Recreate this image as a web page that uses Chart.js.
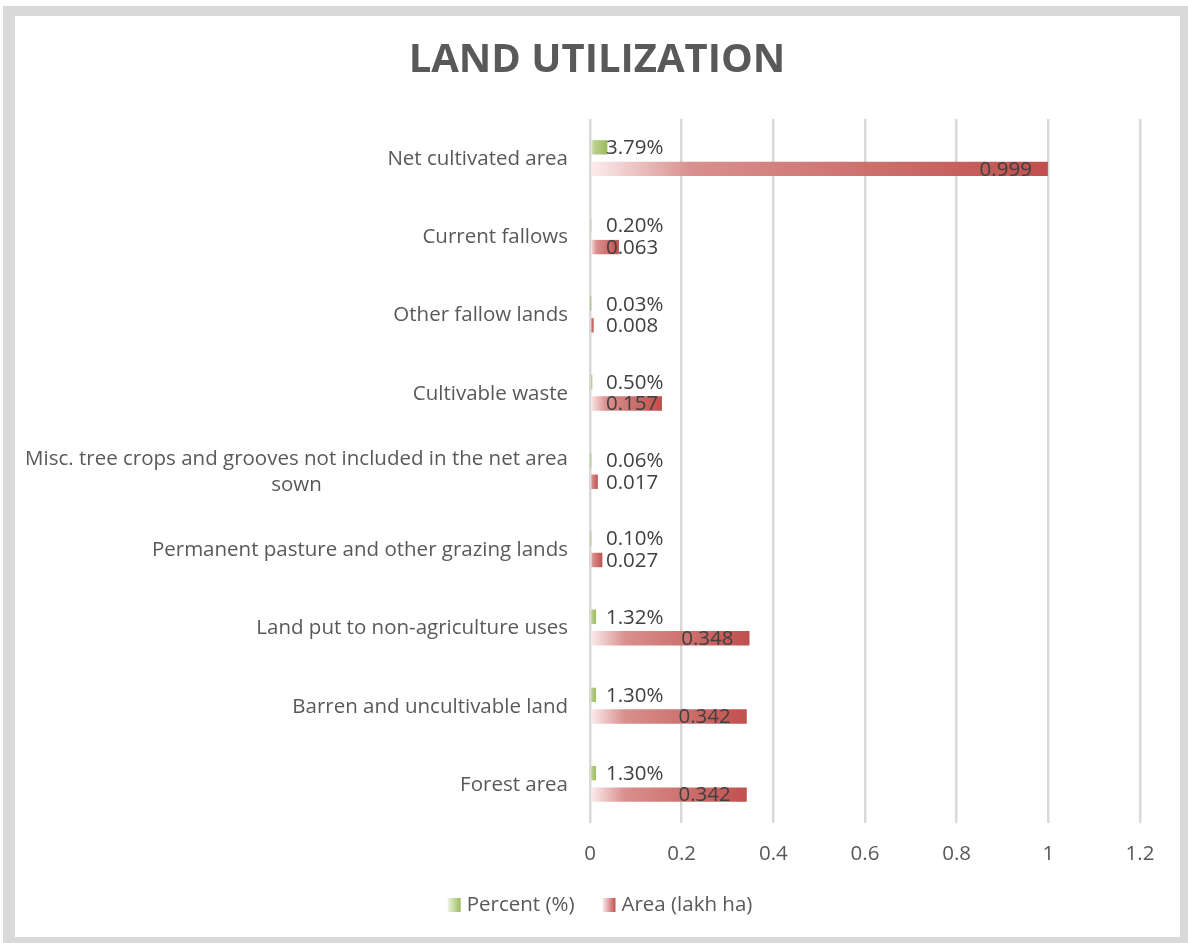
<!DOCTYPE html>
<html>
<head>
<meta charset="utf-8">
<title>Land Utilization</title>
<script src="https://cdn.jsdelivr.net/npm/chart.js@4.4.1/dist/chart.umd.min.js"></script>
<style>
  html, body { margin: 0; padding: 0; background: #ffffff; }
  #wrap { position: relative; width: 1188px; height: 943px; }
  canvas { display: block; }
</style>
</head>
<body>
<div id="wrap"><canvas id="landChart" width="1188" height="943"></canvas></div>
<script>
// Land use categories, top to bottom
const categories = [
  ['Net cultivated area'],
  ['Current fallows'],
  ['Other fallow lands'],
  ['Cultivable waste'],
  ['Misc. tree crops and grooves not included in the net area', 'sown'],
  ['Permanent pasture and other grazing lands'],
  ['Land put to non-agriculture uses'],
  ['Barren and uncultivable land'],
  ['Forest area']
];

// Share of each category (fraction, shown as a percentage)
const percentValues = [0.0379, 0.0020, 0.0003, 0.0050, 0.0006, 0.0010, 0.0132, 0.0130, 0.0130];

// Area of each category in lakh hectares
const areaValues = [0.999, 0.063, 0.008, 0.157, 0.017, 0.027, 0.348, 0.342, 0.342];

// Value axis ticks
const xTickValues = [0, 0.2, 0.4, 0.6, 0.8, 1, 1.2];

const seriesNames = ['Percent (%)', 'Area (lakh ha)'];
const chartTitle = 'LAND UTILIZATION';

const FONT = "'Open Sans', 'DejaVu Sans', sans-serif";
const TEXT_SIZE = 20.5;
const GREEN = { light: '#eef4e3', mid: '#bcd193', full: '#9bbb59' };
const RED = { light: '#fbeeee', mid: '#d9908e', full: '#c0504d' };

function barGradient(ctx, x0, x1, pal) {
  const g = ctx.createLinearGradient(x0, 0, Math.max(x1, x0 + 1), 0);
  g.addColorStop(0, pal.light);
  g.addColorStop(0.22, pal.mid);
  g.addColorStop(1, pal.full);
  return g;
}

function scriptedFill(pal) {
  return function (context) {
    const chart = context.chart;
    const xs = chart.scales && chart.scales.x;
    if (!chart.chartArea || !xs || context.dataIndex === undefined) return pal.full;
    const v = context.dataset.data[context.dataIndex];
    const x0 = xs.getPixelForValue(0);
    const x1 = xs.getPixelForValue(v);
    return barGradient(chart.ctx, x0, x1, pal);
  };
}

// Grey frame around the whole figure, plus the title
const framePlugin = {
  id: 'frame',
  beforeDraw(chart) {
    const ctx = chart.ctx;
    ctx.save();
    ctx.fillStyle = '#d9d9d9';
    ctx.fillRect(3, 6, 1185, 937);
    ctx.fillStyle = '#ffffff';
    ctx.fillRect(15, 16, 1165, 921);
    ctx.font = 'bold 40px ' + FONT;
    ctx.fillStyle = '#595959';
    ctx.textAlign = 'center';
    ctx.textBaseline = 'middle';
    ctx.fillText(chartTitle, 597, 61);
    ctx.restore();
  }
};

// Category names, right-aligned as a block, wrapped lines centred in the block
const categoryLabelPlugin = {
  id: 'categoryLabels',
  afterDraw(chart) {
    const ctx = chart.ctx;
    const ys = chart.scales.y;
    const right = chart.chartArea.left - 22;
    ctx.save();
    ctx.font = TEXT_SIZE + 'px ' + FONT;
    ctx.fillStyle = '#595959';
    ctx.textBaseline = 'middle';
    ctx.textAlign = 'center';
    categories.forEach((lines, i) => {
      const cy = ys.getPixelForValue(i) + 1;
      const w = Math.max(...lines.map(l => ctx.measureText(l).width));
      const cx = right - w / 2;
      const lh = 26;
      lines.forEach((line, k) => {
        ctx.fillText(line, cx, cy + (k - (lines.length - 1) / 2) * lh);
      });
    });
    ctx.restore();
  }
};

// Value labels next to / inside each bar
const valueLabelPlugin = {
  id: 'valueLabels',
  afterDatasetsDraw(chart) {
    const ctx = chart.ctx;
    const xs = chart.scales.x;
    const x0 = xs.getPixelForValue(0);
    ctx.save();
    ctx.font = TEXT_SIZE + 'px ' + FONT;
    ctx.fillStyle = '#404040';
    ctx.textBaseline = 'middle';
    ctx.textAlign = 'left';
    chart.getDatasetMeta(0).data.forEach((bar, i) => {
      const txt = (percentValues[i] * 100).toFixed(2) + '%';
      ctx.fillText(txt, x0 + 16, bar.y + 1);
    });
    chart.getDatasetMeta(1).data.forEach((bar, i) => {
      const txt = String(areaValues[i]);
      const w = ctx.measureText(txt).width;
      ctx.fillText(txt, Math.max(x0 + 16, bar.x - 16 - w), bar.y + 1);
    });
    ctx.restore();
  }
};

// Legend with gradient swatches below the axis
const legendPlugin = {
  id: 'gradientLegend',
  afterDraw(chart) {
    const ctx = chart.ctx;
    ctx.save();
    ctx.font = TEXT_SIZE + 'px ' + FONT;
    ctx.textBaseline = 'middle';
    ctx.textAlign = 'left';
    const box = 13, boxH = 14, gapText = 6, gapItem = 28;
    const pals = [GREEN, RED];
    const widths = seriesNames.map(n => box + gapText + ctx.measureText(n).width);
    const total = widths.reduce((a, b) => a + b, 0) + gapItem * (seriesNames.length - 1);
    let x = 600 - total / 2;
    const cy = 905;
    seriesNames.forEach((name, i) => {
      const g = ctx.createLinearGradient(x, 0, x + box, 0);
      g.addColorStop(0, pals[i].light);
      g.addColorStop(1, pals[i].full);
      ctx.fillStyle = g;
      ctx.fillRect(x, cy - boxH / 2, box, boxH);
      ctx.fillStyle = '#595959';
      ctx.fillText(name, x + box + gapText, cy);
      x += widths[i] + gapItem;
    });
    ctx.restore();
  }
};

function build() {
  Chart.defaults.font.family = FONT;
  Chart.defaults.color = '#595959';

  new Chart(document.getElementById('landChart'), {
    type: 'bar',
    data: {
      labels: categories.map(c => c.join(' ')),
      datasets: [
        {
          label: seriesNames[0],
          data: percentValues,
          backgroundColor: scriptedFill(GREEN),
          borderWidth: 0,
          categoryPercentage: 0.55,
          barPercentage: 0.67
        },
        {
          label: seriesNames[1],
          data: areaValues,
          backgroundColor: scriptedFill(RED),
          borderWidth: 0,
          categoryPercentage: 0.55,
          barPercentage: 0.67
        }
      ]
    },
    options: {
      indexAxis: 'y',
      responsive: false,
      animation: false,
      layout: { padding: { top: 119, left: 15, right: 48, bottom: 60 } },
      plugins: {
        legend: { display: false },
        tooltip: { enabled: false },
        title: { display: false }
      },
      scales: {
        x: {
          min: 0,
          max: 1.2,
          afterBuildTicks(scale) {
            scale.ticks = xTickValues.map(v => ({ value: v }));
          },
          afterFit(scale) { scale.height = 60; },
          grid: { color: '#d9d9d9', lineWidth: 2.5, drawTicks: false },
          border: { display: false },
          ticks: {
            padding: 19,
            color: '#595959',
            font: { size: TEXT_SIZE, family: FONT },
            callback: v => String(parseFloat(Number(v).toFixed(1)))
          }
        },
        y: {
          afterFit(scale) { scale.width = 575; },
          grid: { display: false },
          border: { display: false },
          ticks: { display: false }
        }
      }
    },
    plugins: [framePlugin, categoryLabelPlugin, valueLabelPlugin, legendPlugin]
  });
}

if (document.fonts && document.fonts.load) {
  Promise.all([
    document.fonts.load("20px 'Open Sans'"),
    document.fonts.load("bold 40px 'Open Sans'")
  ]).then(build, build);
} else {
  build();
}
</script>
</body>
</html>
